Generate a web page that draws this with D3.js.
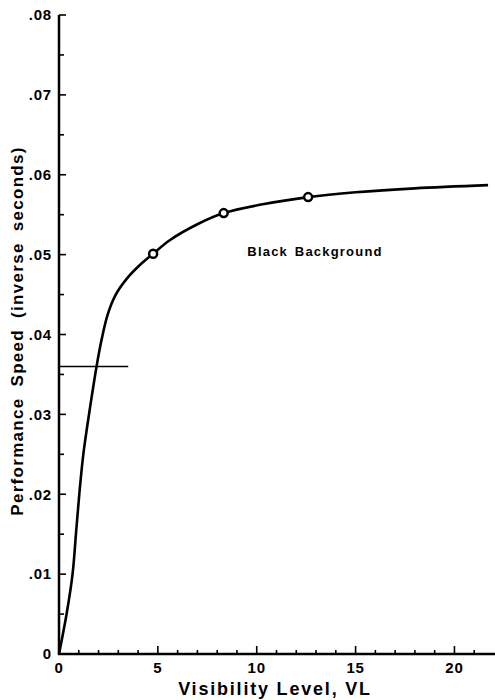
<!DOCTYPE html>
<html>
<head>
<meta charset="utf-8">
<script src="https://cdn.jsdelivr.net/npm/d3@7"></script>
<style>
  body { margin: 0; background: #fff; }
  svg { display: block; }
  text { font-family: "Liberation Sans", Arial, sans-serif; font-weight: bold; fill: #000; }
</style>
</head>
<body>
<svg width="495" height="700"></svg>
<script>
// curva
const visLevel = [0, 0.39, 0.69, 0.86, 1.03, 1.23, 1.53, 1.9, 2.15, 2.45, 2.85, 3.4, 4.05, 4.76, 5.6, 7.0, 8.33, 10.3, 12.6, 15.0, 18.0, 21.7];
const perfSpeed = [0, 0.0051, 0.0101, 0.0151, 0.0201, 0.0250, 0.0302, 0.036, 0.0393, 0.0424, 0.0449, 0.0469, 0.0486, 0.0501, 0.0518, 0.0538, 0.0552, 0.0563, 0.0572, 0.0578, 0.0583, 0.0587];

// puntos marcados
const markVL = [4.76, 8.33, 12.6];
const markSpeed = [0.0501, 0.0552, 0.0572];

// linea horizontal de referencia
const refSpeed = 0.036;
const refVLEnd = 3.5;

const yTicks = [0, 0.01, 0.02, 0.03, 0.04, 0.05, 0.06, 0.07, 0.08];
const yTickLabels = ["0", ".01", ".02", ".03", ".04", ".05", ".06", ".07", ".08"];
const xTicks = [0, 5, 10, 15, 20];

const svg = d3.select("svg");

const x = d3.scaleLinear().domain([0, 22]).range([59, 494]);
const y = d3.scaleLinear().domain([0, 0.08]).range([654, 15]);

// ejes
svg.append("line")
  .attr("x1", x(0)).attr("x2", x(0))
  .attr("y1", y(0) + 1).attr("y2", y(0.08))
  .attr("stroke", "#000").attr("stroke-width", 2.5);

svg.append("line")
  .attr("x1", x(0) - 1).attr("x2", 495)
  .attr("y1", y(0)).attr("y2", y(0))
  .attr("stroke", "#000").attr("stroke-width", 2.5);

// ticks del eje y (hacia adentro)
const yAll = d3.range(0, 0.0801, 0.005);
svg.append("g").selectAll("line")
  .data(yAll)
  .join("line")
  .attr("x1", x(0))
  .attr("x2", (d, i) => x(0) + (i % 2 === 0 ? 7 : 5))
  .attr("y1", d => y(d)).attr("y2", d => y(d))
  .attr("stroke", "#000").attr("stroke-width", 1.6);

svg.append("g").selectAll("text")
  .data(yTicks)
  .join("text")
  .attr("x", 52)
  .attr("y", d => y(d))
  .attr("dy", "0.35em")
  .attr("text-anchor", "end")
  .attr("font-size", 15)
  .attr("letter-spacing", 0.8)
  .text((d, i) => yTickLabels[i]);

// ticks del eje x
const xAll = d3.range(1, 22);
svg.append("g").selectAll("line")
  .data(xAll)
  .join("line")
  .attr("x1", d => x(d)).attr("x2", d => x(d))
  .attr("y1", y(0))
  .attr("y2", d => y(0) - (d % 5 === 0 ? 8 : 4))
  .attr("stroke", "#000").attr("stroke-width", 1.6);

svg.append("g").selectAll("text")
  .data(xTicks)
  .join("text")
  .attr("x", d => x(d))
  .attr("y", 673)
  .attr("text-anchor", "middle")
  .attr("font-size", 15)
  .attr("letter-spacing", 0.8)
  .text(d => d);

// titulos
svg.append("text")
  .attr("x", 275)
  .attr("y", 695)
  .attr("text-anchor", "middle")
  .attr("font-size", 18)
  .attr("letter-spacing", 1.8)
  .text("Visibility Level, VL");

svg.append("text")
  .attr("transform", "translate(23,331) rotate(-90)")
  .attr("text-anchor", "middle")
  .attr("font-size", 17)
  .attr("letter-spacing", 1.3)
  .attr("word-spacing", 5)
  .text("Performance Speed (inverse seconds)");

svg.append("text")
  .attr("x", 315)
  .attr("y", 256)
  .attr("text-anchor", "middle")
  .attr("font-size", 13)
  .attr("letter-spacing", 1.2)
  .attr("word-spacing", 2)
  .text("Black Background");

// linea de referencia
svg.append("line")
  .attr("x1", x(0)).attr("x2", x(refVLEnd))
  .attr("y1", y(refSpeed)).attr("y2", y(refSpeed))
  .attr("stroke", "#000").attr("stroke-width", 1.5);

// curva
const curveData = visLevel.map((v, i) => ({vl: v, speed: perfSpeed[i]}));
const line = d3.line()
  .x(d => x(d.vl))
  .y(d => y(d.speed))
  .curve(d3.curveCatmullRom.alpha(0.5));

svg.append("path")
  .datum(curveData)
  .attr("d", line)
  .attr("fill", "none")
  .attr("stroke", "#000")
  .attr("stroke-width", 2.6);

// marcadores
svg.append("g").selectAll("circle")
  .data(markVL.map((v, i) => ({vl: v, speed: markSpeed[i]})))
  .join("circle")
  .attr("cx", d => x(d.vl))
  .attr("cy", d => y(d.speed))
  .attr("r", 4)
  .attr("fill", "#fff")
  .attr("stroke", "#000")
  .attr("stroke-width", 2.5);
</script>
</body>
</html>
